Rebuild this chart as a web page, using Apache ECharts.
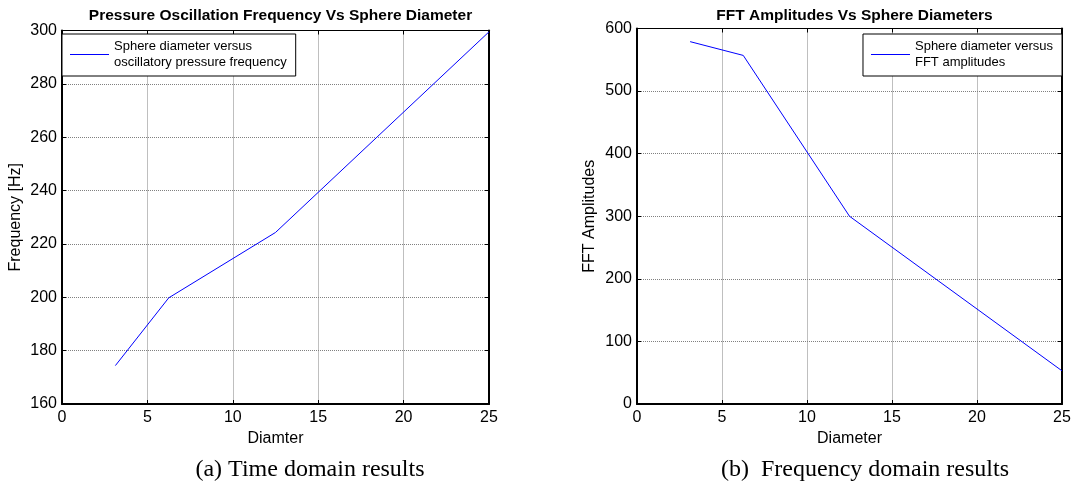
<!DOCTYPE html>
<html>
<head>
<meta charset="utf-8">
<script src="https://cdn.jsdelivr.net/npm/echarts@6/dist/echarts.min.js"></script>
<style>
  html, body { margin: 0; padding: 0; background: #fff; }
  #chart { width: 1075px; height: 489px; }
</style>
</head>
<body>
<div id="chart"></div>
<script>
// Sphere diameters (shared by both panels)
var diameters = [3.125, 6.25, 12.5, 25];
// Panel (a): oscillatory pressure frequency [Hz]
var frequencyHz = [174.4, 199.8, 224.3, 299.5];
// Panel (b): FFT amplitudes
var fftAmplitudes = [579, 557, 300, 53];

var xTicks = { min: 0, max: 25, interval: 5 };
var freqTicks = { min: 160, max: 300, interval: 20 };
var ampTicks = { min: 0, max: 600, interval: 100 };

var legendText = {
  freq: 'Sphere diameter versus\noscillatory pressure frequency',
  amp: 'Sphere diameter versus\nFFT amplitudes'
};

function pairs(xs, ys) {
  return xs.map(function (x, i) { return [x, ys[i]]; });
}

var FONT = '"Liberation Sans", Arial, sans-serif';
var gridLine = { show: true, lineStyle: { color: '#808080', width: 1, type: [1, 1] } };

function mainX(gi, name) {
  return {
    type: 'value', gridIndex: gi, position: 'bottom',
    min: xTicks.min, max: xTicks.max, interval: xTicks.interval,
    name: name, nameLocation: 'middle', nameGap: 26,
    nameTextStyle: { color: '#000', fontSize: 16, fontFamily: FONT },
    axisLine: { show: true, onZero: false, lineStyle: { color: '#000', width: 2 } },
    axisTick: { show: true, inside: true, length: 4, lineStyle: { color: '#000' } },
    axisLabel: { color: '#000', fontSize: 16, fontFamily: FONT, margin: 6 },
    splitLine: gridLine
  };
}
function topX(gi) {
  return {
    type: 'value', gridIndex: gi, position: 'top',
    min: xTicks.min, max: xTicks.max, interval: xTicks.interval,
    axisLine: { show: true, onZero: false, lineStyle: { color: '#000', width: 1 } },
    axisTick: { show: true, inside: true, length: 4, lineStyle: { color: '#000' } },
    axisLabel: { show: false }, splitLine: { show: false }
  };
}
function mainY(gi, t, name, gap) {
  return {
    type: 'value', gridIndex: gi, position: 'left',
    min: t.min, max: t.max, interval: t.interval,
    name: name, nameLocation: 'middle', nameGap: gap,
    nameTextStyle: { color: '#000', fontSize: 16, fontFamily: FONT },
    axisLine: { show: true, onZero: false, lineStyle: { color: '#000', width: 2 } },
    axisTick: { show: true, inside: true, length: 4, lineStyle: { color: '#000' } },
    axisLabel: { color: '#000', fontSize: 16, fontFamily: FONT, margin: 5 },
    splitLine: gridLine
  };
}
function rightY(gi, t) {
  return {
    type: 'value', gridIndex: gi, position: 'right',
    min: t.min, max: t.max, interval: t.interval,
    axisLine: { show: true, onZero: false, lineStyle: { color: '#000', width: 2 } },
    axisTick: { show: true, inside: true, length: 4, lineStyle: { color: '#000' } },
    axisLabel: { show: false }, splitLine: { show: false }
  };
}
function legendBox(gi, pos, text) {
  return Object.assign({
    gridIndex: gi,
    data: [text],
    orient: 'vertical',
    top: 34,
    backgroundColor: '#fff',
    borderColor: '#000', borderWidth: 1,
    padding: [5, 9, 6, 8],
    icon: 'rect', itemWidth: 39, itemHeight: 1,
    selectedMode: false,
    textStyle: { color: '#000', fontSize: 13, fontFamily: FONT, lineHeight: 15.5, padding: [0, 0, 0, 0] }
  }, pos);
}

var chart = echarts.init(document.getElementById('chart'), null, { renderer: 'canvas' });
chart.setOption({
  animation: false,
  backgroundColor: '#fff',
  title: [
    { text: 'Pressure Oscillation Frequency Vs Sphere Diameter', left: 275.5, top: 3, textAlign: 'center',
      textStyle: { fontSize: 15.5, fontWeight: 'bold', color: '#000', fontFamily: FONT } },
    { text: 'FFT Amplitudes Vs Sphere Diameters', left: 849.5, top: 3, textAlign: 'center',
      textStyle: { fontSize: 15.5, fontWeight: 'bold', color: '#000', fontFamily: FONT } },
    { text: '(a) Time domain results', left: 305, top: 453, textAlign: 'center',
      textStyle: { fontSize: 24, fontWeight: 'normal', color: '#000', fontFamily: '"Liberation Serif", "Times New Roman", serif' } },
    { text: '(b)  Frequency domain results', left: 860, top: 453, textAlign: 'center',
      textStyle: { fontSize: 24, fontWeight: 'normal', color: '#000', fontFamily: '"Liberation Serif", "Times New Roman", serif' } }
  ],
  grid: [
    { left: 62, top: 30.5, width: 427, height: 373.5 },
    { left: 637, top: 28.5, width: 425, height: 375.5 }
  ],
  legend: [
    legendBox(0, { left: 62 }, legendText.freq),
    legendBox(1, { right: 13 }, legendText.amp)
  ],
  xAxis: [mainX(0, 'Diamter'), topX(0), mainX(1, 'Diameter'), topX(1)],
  yAxis: [mainY(0, freqTicks, 'Frequency [Hz]', 38), rightY(0, freqTicks),
          mainY(1, ampTicks, 'FFT Amplitudes', 39), rightY(1, ampTicks)],
  series: [
    { name: legendText.freq, type: 'line', xAxisIndex: 0, yAxisIndex: 0,
      data: pairs(diameters, frequencyHz), showSymbol: false, symbol: 'none',
      lineStyle: { color: '#0000ff', width: 1 }, itemStyle: { color: '#0000ff' } },
    { name: legendText.amp, type: 'line', xAxisIndex: 2, yAxisIndex: 2,
      data: pairs(diameters, fftAmplitudes), showSymbol: false, symbol: 'none',
      lineStyle: { color: '#0000ff', width: 1 }, itemStyle: { color: '#0000ff' } }
  ]
});
</script>
</body>
</html>
